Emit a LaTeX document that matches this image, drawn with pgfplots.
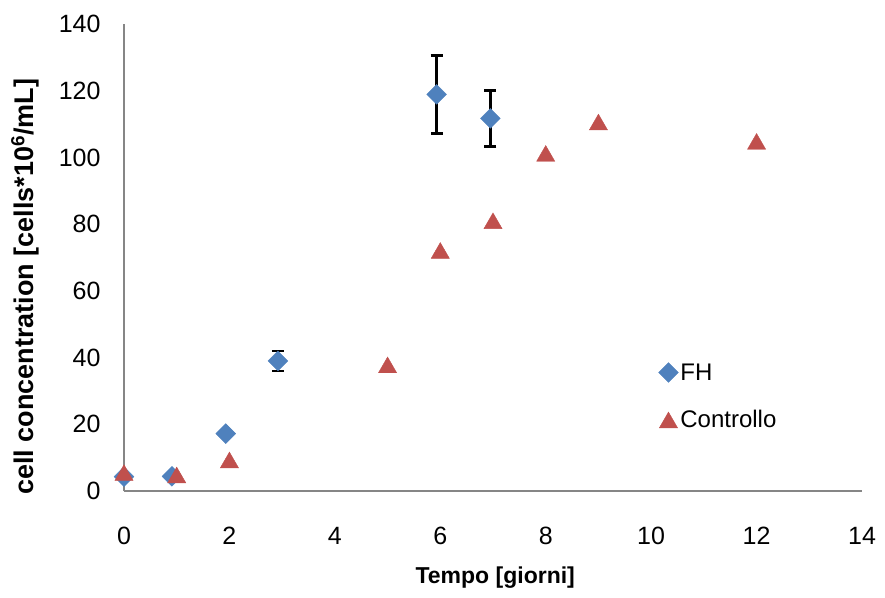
\documentclass[border=0pt]{standalone}
\usepackage{fontspec}
\setmainfont{Liberation Sans}
\usepackage{pgfplots}
\pgfplotsset{compat=1.18}
\definecolor{fhblue}{HTML}{4F81BD}
\definecolor{ctred}{HTML}{C0504D}
\definecolor{axgray}{HTML}{868686}
\begin{document}
\begin{tikzpicture}[x=1pt,y=1pt]
\path[use as bounding box] (-124,-106) rectangle (761,491);
\begin{axis}[
  at={(0pt,0pt)}, anchor=south west,
  scale only axis, width=738pt, height=467pt,
  xmin=0, xmax=14, ymin=0, ymax=140,
  xtick={0,2,...,14}, ytick={0,20,...,140},
  axis x line=bottom, axis y line=left,
  axis line style={axgray, line width=2pt, -},
  major tick length=0pt,
  tick label style={font=\fontsize{25}{28}\selectfont},
  /pgf/number format/assume math mode=true,
  yticklabel style={anchor=east, xshift=-20pt},
  xticklabel style={anchor=north, yshift=-33pt},
  xlabel={\bfseries Tempo [giorni]},
  ylabel={\bfseries cell concentration [cells*10\textsuperscript{6}/mL]},
  xlabel style={font=\fontsize{23}{26}\selectfont, at={(axis description cs:0.503,-0.186)}, anchor=center},
  ylabel style={font=\fontsize{27}{30}\selectfont, at={(axis description cs:-0.134,0.437)}, anchor=center, rotate=0},
  clip=false,
  legend style={draw=none, fill=none, font=\fontsize{24}{28}\selectfont,
    at={(rel axis cs:0.72,0.282)}, anchor=north west, row sep=25pt},
  legend cell align=left,
]
\addplot[only marks, mark=square*, mark size=7pt,
  mark options={rotate=45, fill=fhblue, draw=fhblue},
  error bars/.cd, y dir=both, y explicit,
  error bar style={black, line width=2.5pt},
  error mark options={black, line width=2.5pt, mark size=6pt, rotate=90}]
  coordinates {
  (0,4.3) +- (0,0)
  (0.91,4.4) +- (0,0)
  (1.93,17.2) +- (0,0)
  (2.92,39.0) +- (0,3.0)
  (5.93,118.9) +- (0,11.7)
  (6.95,111.7) +- (0,8.4)
  };
\addlegendentry{FH}
\addplot[only marks, mark=triangle*, mark size=10.5pt,
  mark options={fill=ctred, draw=ctred, yshift=-2.6pt}]
  coordinates {
  (0,5.5) (1,4.8) (2,9.3) (5,37.8) (6,72.1) (7,81.0) (8,101.2) (9,110.6) (12,104.8)
  };
\addlegendentry{Controllo}
\end{axis}
\end{tikzpicture}
\end{document}
